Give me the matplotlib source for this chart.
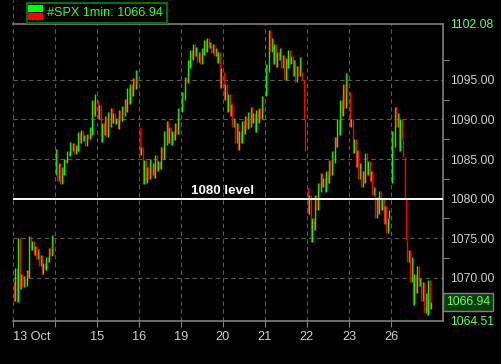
import matplotlib
matplotlib.use("Agg")
import matplotlib.pyplot as plt
from matplotlib.patches import Rectangle

# price path per trading day (alternating swings)
day_labels = ['13 Oct', '', '15', '16', '19', '20', '21', '22', '23', '26']
oct13 = [1069.5, 1067.0, 1071.2, 1066.9, 1075.0, 1068.5, 1070.5, 1068.8, 1070.2, 1069.0,
         1071.0, 1070.0, 1075.3, 1073.5, 1074.6, 1072.8, 1074.0, 1072.4, 1073.6, 1071.5,
         1072.8, 1070.4, 1071.8, 1071.0, 1072.6, 1072.0, 1073.8, 1072.7, 1075.4, 1073.0]
oct14 = [1083.0, 1086.3, 1082.2, 1084.5, 1081.8, 1084.0, 1083.0, 1085.0, 1084.5, 1086.0,
         1085.4, 1087.2, 1086.0, 1087.0, 1085.6, 1086.8, 1086.0, 1088.4, 1087.0, 1088.7,
         1087.3, 1088.0, 1086.6, 1088.2, 1087.5, 1089.0, 1088.0, 1092.5, 1090.5, 1093.2]
oct15 = [1092.5, 1090.0, 1091.8, 1087.2, 1089.5, 1088.0, 1090.5, 1087.8, 1091.0, 1089.0,
         1091.5, 1089.5, 1090.8, 1089.4, 1090.2, 1088.8, 1091.2, 1089.8, 1091.7, 1090.5,
         1092.6, 1091.0, 1094.0, 1092.0, 1094.5, 1093.0, 1095.3, 1093.8, 1096.3, 1094.5]
oct16 = [1089.0, 1085.5, 1086.5, 1081.8, 1084.9, 1082.0, 1084.0, 1082.5, 1085.0, 1083.0,
         1084.5, 1082.6, 1085.5, 1083.5, 1084.8, 1083.8, 1086.5, 1085.0, 1088.5, 1086.8,
         1089.8, 1087.0, 1089.0, 1086.8, 1088.6, 1087.4, 1089.5, 1088.2, 1091.5, 1090.0]
oct19 = [1091.0, 1093.5, 1092.5, 1095.4, 1094.6, 1097.5, 1096.5, 1098.8, 1097.5, 1099.5,
         1098.0, 1099.2, 1097.3, 1098.5, 1097.0, 1099.0, 1098.2, 1100.0, 1098.5, 1100.3,
         1099.0, 1099.8, 1098.4, 1099.6, 1098.0, 1099.0, 1097.2, 1098.5, 1094.0, 1096.5]
oct20 = [1096.0, 1092.5, 1094.5, 1091.0, 1093.2, 1090.5, 1092.0, 1089.0, 1090.2, 1087.0,
         1089.5, 1086.2, 1088.5, 1087.0, 1089.8, 1088.2, 1090.5, 1088.8, 1091.0, 1089.0,
         1091.6, 1089.5, 1090.8, 1088.4, 1091.2, 1089.6, 1091.5, 1090.0, 1093.0, 1091.0]
oct21 = [1093.0, 1097.0, 1096.0, 1101.3, 1098.5, 1100.3, 1097.0, 1099.5, 1096.6, 1098.5,
         1097.5, 1099.0, 1096.5, 1098.2, 1095.0, 1097.8, 1096.5, 1098.8, 1097.0, 1098.0,
         1095.5, 1097.5, 1094.7, 1096.8, 1095.5, 1097.9, 1096.0, 1095.0, 1090.0, 1086.0]
oct22 = [1081.5, 1078.0, 1080.5, 1074.5, 1077.5, 1076.0, 1080.5, 1078.5, 1082.0, 1080.8,
         1083.2, 1081.5, 1082.6, 1080.8, 1083.5, 1082.0, 1084.9, 1083.0, 1086.0, 1084.5,
         1087.8, 1086.5, 1090.0, 1088.0, 1092.5, 1090.5, 1094.5, 1091.5, 1095.9, 1093.0]
oct23 = [1093.5, 1089.0, 1090.0, 1085.8, 1087.5, 1084.0, 1086.1, 1082.5, 1084.5, 1081.5,
         1083.5, 1082.0, 1085.8, 1083.0, 1084.8, 1082.2, 1083.5, 1080.5, 1081.5, 1077.5,
         1080.2, 1078.0, 1081.0, 1078.5, 1080.0, 1076.8, 1079.0, 1075.6, 1077.5, 1078.5]
oct26 = [1082.0, 1088.5, 1086.5, 1091.6, 1089.0, 1090.8, 1086.0, 1090.0, 1087.5, 1085.3,
         1080.0, 1074.8, 1072.0, 1073.5, 1069.5, 1072.6, 1066.5, 1070.5, 1068.0, 1071.5,
         1069.0, 1070.0, 1067.0, 1069.5, 1065.5, 1068.0, 1065.3, 1069.7, 1066.0, 1066.94]
days = [oct13, oct14, oct15, oct16, oct19, oct20, oct21, oct22, oct23, oct26]

y_min, y_max = 1064.51, 1102.08
last_price = 1066.94
level = 1080.0
grid_levels = [1070, 1075, 1085, 1090, 1095]
label_levels = [1064.51, 1070, 1075, 1080, 1085, 1090, 1095, 1102.08]
minor_levels = [1064.51, 1072.5, 1077.5, 1082.5, 1087.5, 1092.5, 1097.5, 1102.08]

GREEN = '#00ff00'
RED = '#ff0000'
GRID = '#5a5a5a'
AXIS = '#808080'
LABEL = '#d0d0d0'
LGREEN = '#66ff66'

plt.rcParams['font.family'] = ['Liberation Sans', 'DejaVu Sans']

fig = plt.figure(figsize=(5.02, 3.64), dpi=100, facecolor='black')
ax = fig.add_axes([13 / 502, 43 / 364, 430 / 502, 297 / 364], facecolor='black')
ax.set_xlim(0, 430 / 42)
ax.set_ylim(y_min, y_max)

# day separators
for d in range(len(days)):
    top = 1 + 24 / 297 if d == 0 else 1
    ax.plot([d, d], [0, top], transform=ax.get_xaxis_transform(), color=GRID,
            lw=0.8, dashes=(4, 3), clip_on=False, zorder=1)
for g in grid_levels:
    ax.axhline(g, color=GRID, lw=0.8, dashes=(4, 3), zorder=1)
ax.axhline(level, color='white', lw=1.4, zorder=4)
ax.text(5.0, level + 0.95, '1080 level', color='white', fontsize=9.6,
        fontweight='bold', ha='center', va='center', zorder=5)

# bars between successive swing points
for d, path in enumerate(days):
    n = len(path)
    xs, lo, hi, cols = [], [], [], []
    for i in range(n - 1):
        xs.append(d + (i + 0.7) / n)
        lo.append(min(path[i], path[i + 1]))
        hi.append(max(path[i], path[i + 1]))
        cols.append(GREEN if path[i + 1] >= path[i] else RED)
    ax.vlines(xs, lo, hi, colors=cols, lw=1.0, zorder=3)

ax.spines['left'].set_visible(False)
for s in ['top', 'bottom', 'right']:
    ax.spines[s].set_color(AXIS)
    ax.spines[s].set_linewidth(1.2)

ax.set_xticks(range(len(days)))
ax.set_xticklabels(day_labels)
ax.tick_params(axis='x', colors=AXIS, labelcolor=LABEL, length=4, width=0.8,
               labelsize=9.2, pad=3)
ax.get_xticklabels()[0].set_ha('left')

ax.yaxis.tick_right()
ax.set_yticks(label_levels)
ax.set_yticklabels(['%.2f' % v for v in label_levels])
ax.set_yticks(minor_levels, minor=True)
ax.tick_params(axis='y', which='major', length=0, pad=5, labelsize=8.7, labelcolor=LABEL)
ax.tick_params(axis='y', which='minor', length=4, width=0.8, color=AXIS)
for t, v in zip(ax.get_yticklabels(), label_levels):
    if v in (y_min, y_max):
        t.set_color(LGREEN)

# current price box
ax.text(1.0 + 3 / 430, last_price, '%.2f' % last_price, transform=ax.get_yaxis_transform(),
        color=LGREEN, fontsize=8.7, va='center', ha='left', zorder=6, clip_on=False,
        bbox=dict(boxstyle='square,pad=0.25', fc='#0a3d0a', ec=AXIS, lw=1.0))

# legend box
fig.patches.append(Rectangle((27 / 502, 1 - 23 / 364), 140 / 502, 20 / 364,
                             transform=fig.transFigure, fc='black', ec='#007000', lw=1.5,
                             zorder=10))
fig.patches.append(Rectangle((28 / 502, 1 - 12 / 364), 15 / 502, 7 / 364,
                             transform=fig.transFigure, fc=GREEN, ec='none', zorder=11))
fig.patches.append(Rectangle((28 / 502, 1 - 20 / 364), 15 / 502, 7 / 364,
                             transform=fig.transFigure, fc=RED, ec='none', zorder=11))
fig.text(47 / 502, 1 - 13 / 364, '#SPX 1min: %.2f' % last_price, color='#33ff33',
         fontsize=9.1, va='center', ha='left', zorder=12)

fig.savefig('out.png', dpi=100, facecolor='black')
